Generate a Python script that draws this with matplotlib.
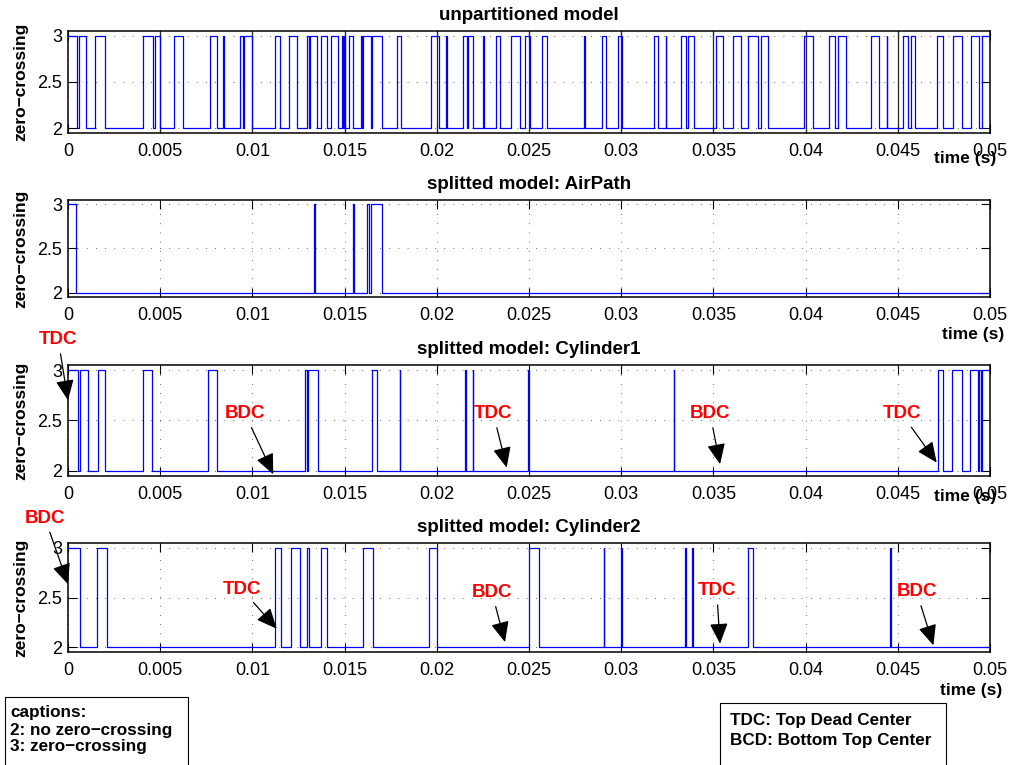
import matplotlib
matplotlib.use("Agg")
import matplotlib.pyplot as plt
from matplotlib.patches import Rectangle

plt.rcParams["font.family"] = ["Liberation Sans", "DejaVu Sans"]

# ── data (switch instants and the value held after) ──
unpart_t = [0, 0.00047, 0.00061, 0.00098, 0.00146, 0.00201, 0.00405, 0.00463,
            0.00474, 0.00497, 0.00575, 0.00622, 0.00768, 0.00806, 0.00842,
            0.00845, 0.00933, 0.00947, 0.00956, 0.00996, 0.01123, 0.0115,
            0.0120, 0.01244, 0.01294, 0.01307, 0.01312, 0.01349, 0.0137,
            0.01403, 0.01424, 0.01466, 0.01484, 0.0149, 0.01499, 0.01504,
            0.01526, 0.01548, 0.01589, 0.01594, 0.0160, 0.01645, 0.01649,
            0.01701, 0.01782, 0.01804, 0.01967, 0.02012, 0.0205, 0.02053,
            0.0214, 0.02164, 0.02168, 0.02194, 0.02252, 0.02255, 0.02321,
            0.02343, 0.02401, 0.02451, 0.0248, 0.02508, 0.02569, 0.02596,
            0.02798, 0.02801, 0.02894, 0.02916, 0.02984, 0.03006, 0.0318,
            0.03201, 0.03241, 0.03244, 0.03324, 0.0335, 0.03364, 0.03395,
            0.03514, 0.0355, 0.03605, 0.0365, 0.03689, 0.03744, 0.03758,
            0.03794, 0.03993, 0.04042, 0.04129, 0.0416, 0.04178, 0.04217,
            0.04353, 0.044, 0.0444, 0.04443, 0.0453, 0.04554, 0.04572,
            0.04593, 0.04711, 0.04747, 0.04798, 0.04847, 0.04895, 0.04942,
            0.04955, 0.05]
unpart_v = [3, 2] * 53 + [3, 3]

airpath_t = [0, 0.00042, 0.01334, 0.0134, 0.01547, 0.0155, 0.01623, 0.01634,
             0.01643, 0.01703, 0.05]
airpath_v = [3, 2, 3, 2, 3, 2, 3, 2, 3, 2, 2]

cyl1_t = [0, 0.00056, 0.00065, 0.0011, 0.00165, 0.00202, 0.00405, 0.00457,
          0.00761, 0.00806, 0.01287, 0.01297, 0.01302, 0.01354, 0.01647,
          0.01674, 0.018, 0.01803, 0.02153, 0.02156, 0.02194, 0.02197,
          0.02494, 0.02501, 0.03286, 0.03289, 0.04717, 0.04744, 0.04792,
          0.04847, 0.04892, 0.04935, 0.04941, 0.04951, 0.04959, 0.05]
cyl1_v = [3, 2] * 17 + [3, 3]

cyl2_t = [0, 0.00065, 0.00155, 0.0021, 0.01123, 0.01155, 0.01209, 0.01258,
          0.01297, 0.01305, 0.0137, 0.01403, 0.01602, 0.01656, 0.01958,
          0.01999, 0.02502, 0.02554, 0.02906, 0.02909, 0.02999, 0.03002,
          0.03348, 0.03351, 0.03384, 0.0339, 0.03689, 0.03713, 0.04458,
          0.04461, 0.05]
cyl2_v = [3, 2] * 15 + [2]

titles = ["unpartitioned model", "splitted model: AirPath",
          "splitted model: Cylinder1", "splitted model: Cylinder2"]

x_ticks = [0, 0.005, 0.01, 0.015, 0.02, 0.025, 0.03, 0.035, 0.04, 0.045, 0.05]
x_ticklabels = ["0", "0.005", "0.01", "0.015", "0.02", "0.025", "0.03",
                "0.035", "0.04", "0.045", "0.05"]
y_ticks = [2, 2.5, 3]
y_ticklabels = ["2", "2.5", "3"]

# markers: label, text position, arrow head
cyl1_marks = ["TDC", "BDC", "TDC", "BDC", "TDC"]
cyl1_text = [(-0.00053, 3.30), (0.0096, 2.567), (0.02307, 2.567),
             (0.03482, 2.567), (0.04521, 2.567)]
cyl1_head = [(0.0, 2.70), (0.01113, 1.967), (0.02379, 2.033),
             (0.03536, 2.067), (0.04711, 2.083)]

cyl2_marks = ["BDC", "TDC", "BDC", "TDC", "BDC"]
cyl2_text = [(-0.00125, 3.30), (0.00942, 2.584), (0.02299, 2.55),
             (0.03518, 2.567), (0.04602, 2.557)]
cyl2_head = [(0.0, 2.634), (0.01132, 2.184), (0.0237, 2.05),
             (0.03536, 2.034), (0.04693, 2.017)]

captions_left = ["captions:", "2: no zero\u2212crossing", "3: zero\u2212crossing"]
captions_right = ["TDC: Top Dead Center", "BCD: Bottom Top Center"]

# ── layout (pixel boxes of the four panels) ──
W, H = 1009, 765
panel_px = [(31, 133), (200, 297), (365, 476), (543, 652)]   # top, bottom
timelabel_xy = [(965, 158), (973, 335), (965, 497), (971, 690)]
AX_L, AX_R = 68, 990

fig = plt.figure(figsize=(W / 100, H / 100), dpi=100)

series = [(unpart_t, unpart_v), (airpath_t, airpath_v),
          (cyl1_t, cyl1_v), (cyl2_t, cyl2_v)]
axes = []
for i, (top, bot) in enumerate(panel_px):
    ax = fig.add_axes([AX_L / W, 1 - bot / H, (AX_R - AX_L) / W, (bot - top) / H])
    t, v = series[i]
    ax.step(t, v, where="post", color="blue", lw=0.9, zorder=3)
    ax.set_xlim(0, 0.05)
    ax.set_ylim(1.95, 3.05)
    ax.set_xticks(x_ticks)
    ax.set_xticklabels(x_ticklabels)
    ax.set_yticks(y_ticks)
    ax.set_yticklabels(y_ticklabels)
    ax.tick_params(direction="in", top=True, right=True, length=6.5,
                   width=0.8, labelsize=13)
    ax.tick_params(axis="x", pad=7)
    ax.tick_params(axis="y", pad=4)
    ax.grid(True, color="0.25", lw=0.6, linestyle=(0, (1, 10)))
    for s in ax.spines.values():
        s.set_linewidth(1.1)
    ax.set_title(titles[i], fontsize=13.5, fontweight="bold", pad=8)
    ax.set_ylabel("zero\u2212crossing", fontsize=12.5, fontweight="bold")
    ax.yaxis.set_label_coords(-0.043, 0.5)
    tx, ty = timelabel_xy[i]
    fig.text(tx / W, 1 - ty / H, "time (s)", fontsize=12.5,
             fontweight="bold", ha="center", va="center", zorder=6)
    axes.append(ax)

# solid lines at the major ticks of the top panel
for xt in x_ticks[1:-1]:
    axes[0].axvline(xt, color="0.15", lw=0.9, zorder=2)

arrow = dict(arrowstyle="-|>,head_length=0.9,head_width=0.4", color="black",
             lw=0.9, mutation_scale=14, shrinkA=2, shrinkB=0)
for ax, marks, txt, head in [(axes[2], cyl1_marks, cyl1_text, cyl1_head),
                             (axes[3], cyl2_marks, cyl2_text, cyl2_head)]:
    for lab, xy_t, xy_h in zip(marks, txt, head):
        ax.annotate(lab, xy=xy_h, xytext=xy_t, color="red", fontsize=13.5,
                    fontweight="bold", ha="center", va="center",
                    arrowprops=arrow, annotation_clip=False, zorder=5)

# caption boxes
fig.patches.append(Rectangle((5 / W, -0.02), 183 / W, 0.02 + 1 - 697 / H,
                             transform=fig.transFigure, fill=False,
                             edgecolor="black", lw=0.8))
fig.patches.append(Rectangle((720 / W, -0.02), 226 / W, 0.02 + 1 - 703 / H,
                             transform=fig.transFigure, fill=False,
                             edgecolor="black", lw=0.8))
for k, line in enumerate(captions_left):
    fig.text(10 / W, 1 - (713 + 17 * k) / H, line, fontsize=12.3,
             fontweight="bold", ha="left", va="center")
for k, line in enumerate(captions_right):
    fig.text(730 / W, 1 - (720 + 20 * k) / H, line, fontsize=12.3,
             fontweight="bold", ha="left", va="center")

fig.savefig("out.png", dpi=100)
